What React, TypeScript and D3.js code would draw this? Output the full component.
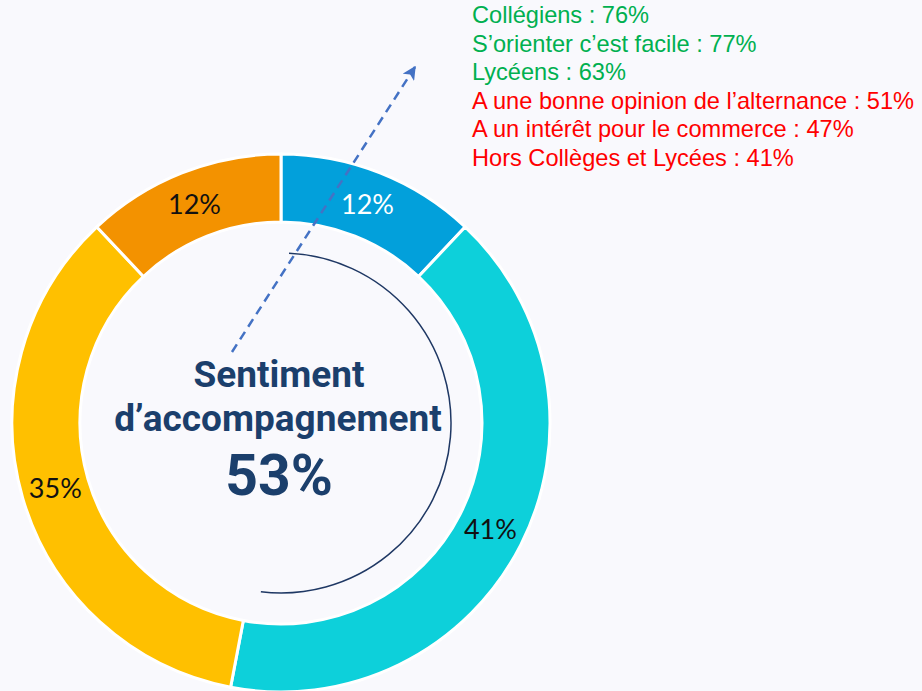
import React, { useEffect, useRef } from "react";
import * as d3 from "d3";

// donut segments, clockwise from 12 o'clock
const segLabels = ["12%", "41%", "35%", "12%"];
const segValues = [12, 41, 35, 12];
const segColors = ["#02a0db", "#0dd0da", "#ffc000", "#f39200"];
const segTextColors = ["#ffffff", "#111111", "#111111", "#111111"];

const centerLines = ["Sentiment", "d\u2019accompagnement"];
const centerValue = 53;

const notes = [
  "Coll\u00e9giens : 76%",
  "S\u2019orienter c\u2019est facile : 77%",
  "Lyc\u00e9ens : 63%",
  "A une bonne opinion de l\u2019alternance : 51%",
  "A un int\u00e9r\u00eat pour le commerce : 47%",
  "Hors Coll\u00e8ges et Lyc\u00e9es : 41%",
];
const noteColors = ["#00b050", "#00b050", "#00b050", "#ff0000", "#ff0000", "#ff0000"];

const App = () => {
  const ref = useRef<SVGSVGElement>(null);

  useEffect(() => {
    const width = 922;
    const height = 691;
    const cx = 281;
    const cy = 423;
    const outerR = 269;
    const innerR = 201;

    const svg = d3.select(ref.current);
    svg.selectAll("*").remove();
    svg.attr("width", width).attr("height", height);

    svg.append("rect").attr("width", width).attr("height", height).attr("fill", "#f9f9fd");

    const defs = svg.append("defs");
    defs.append("marker")
      .attr("id", "head")
      .attr("viewBox", "0 0 10 10")
      .attr("refX", 9)
      .attr("refY", 5)
      .attr("markerWidth", 5.5)
      .attr("markerHeight", 5.5)
      .attr("orient", "auto")
      .attr("markerUnits", "strokeWidth")
      .append("path")
      .attr("d", "M0,0 L10,5 L0,10 L2.5,5 Z")
      .attr("fill", "#4472c4");

    const g = svg.append("g").attr("transform", `translate(${cx},${cy})`);

    const pie = d3.pie<number>().sort(null).value((d) => d);
    const arcs = pie(segValues);
    const arc = d3.arc<d3.PieArcDatum<number>>().innerRadius(innerR).outerRadius(outerR);

    g.selectAll("path.seg")
      .data(arcs)
      .enter().append("path")
      .attr("class", "seg")
      .attr("d", arc)
      .attr("fill", (_d, i) => segColors[i])
      .attr("stroke", "#ffffff")
      .attr("stroke-width", 3);

    g.selectAll("text.seg")
      .data(arcs)
      .enter().append("text")
      .attr("class", "seg")
      .attr("transform", (d) => `translate(${arc.centroid(d)})`)
      .attr("text-anchor", "middle")
      .attr("dy", "0.35em")
      .attr("font-family", "Lato, 'Open Sans', sans-serif")
      .attr("font-size", 27)
      .attr("fill", (_d, i) => segTextColors[i])
      .text((_d, i) => segLabels[i]);

    // thin inner arc (about half the circle)
    const inner = d3.arc()({
      innerRadius: 170,
      outerRadius: 170,
      startAngle: (2.7 * Math.PI) / 180,
      endAngle: (186.8 * Math.PI) / 180,
    } as any);
    g.append("path")
      .attr("d", inner)
      .attr("fill", "none")
      .attr("stroke", "#1f3864")
      .attr("stroke-width", 1.5);

    // dashed arrow
    svg.append("line")
      .attr("x1", 232).attr("y1", 352)
      .attr("x2", 415).attr("y2", 67)
      .attr("stroke", "#4472c4")
      .attr("stroke-width", 2.5)
      .attr("stroke-dasharray", "9,6")
      .attr("marker-end", "url(#head)");

    // center texts
    const txt = "#1b3f6c";
    g.append("text")
      .attr("x", -2).attr("y", -36)
      .attr("text-anchor", "middle")
      .attr("font-family", "Roboto, sans-serif")
      .attr("font-weight", 700)
      .attr("font-size", 37)
      .attr("fill", txt)
      .text(centerLines[0]);
    g.append("text")
      .attr("x", -3).attr("y", 8)
      .attr("text-anchor", "middle")
      .attr("font-family", "Roboto, sans-serif")
      .attr("font-weight", 700)
      .attr("font-size", 37)
      .attr("fill", txt)
      .text(centerLines[1]);
    g.append("text")
      .attr("x", -2).attr("y", 72)
      .attr("text-anchor", "middle")
      .attr("font-family", "Roboto, sans-serif")
      .attr("font-weight", 700)
      .attr("font-size", 57)
      .attr("fill", txt)
      .text(`${centerValue}%`);

    // notes at top right
    svg.append("g")
      .selectAll("text")
      .data(notes)
      .enter().append("text")
      .attr("x", 472)
      .attr("y", (_d, i) => 23 + i * 28.6)
      .attr("font-family", "'Liberation Sans', Arial, sans-serif")
      .attr("font-size", 23.6)
      .attr("fill", (_d, i) => noteColors[i])
      .text((d) => d);
  }, []);

  return (
    <div style={{ position: "fixed", left: 0, top: 0, width: 922, height: 691, overflow: "hidden" }}>
      <svg ref={ref} style={{ display: "block" }} />
    </div>
  );
};

export default App;
